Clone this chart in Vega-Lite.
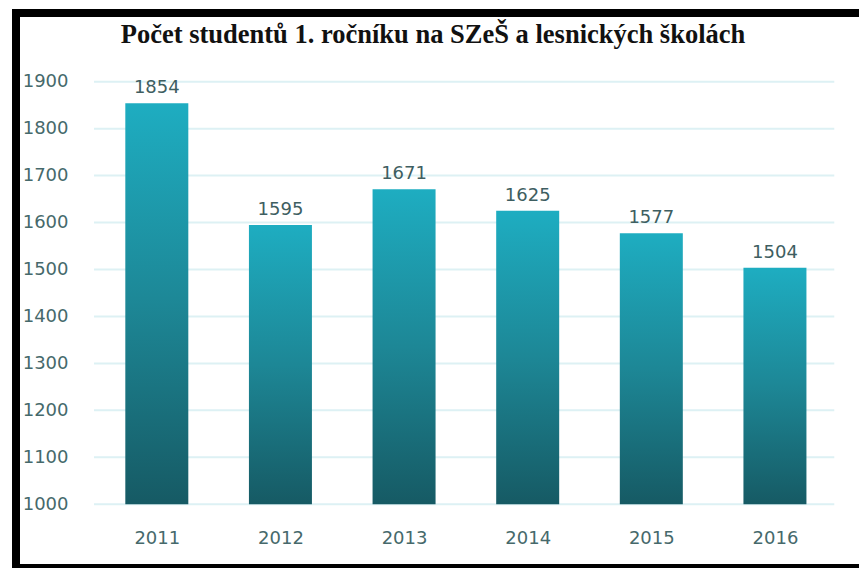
{
  "$schema": "https://vega.github.io/schema/vega-lite/v6.json",
  "autosize": {"type": "none"},
  "padding": {"left": 11, "top": 13, "right": 0, "bottom": 0},
  "width": 848,
  "height": 555,
  "background": "#ffffff",
  "title": {
    "text": "Počet studentů 1. ročníku na SZeŠ a lesnických školách",
    "font": "Liberation Serif",
    "fontSize": 26.5,
    "fontWeight": "bold",
    "color": "#111111",
    "anchor": "middle",
    "frame": "group",
    "baseline": "alphabetic",
    "offset": -60,
    "dx": -2
  },
  "config": {
    "view": {"stroke": null},
    "axis": {
      "labelFont": "DejaVu Sans",
      "labelFontSize": 18,
      "labelColor": "#46696b",
      "domain": false,
      "ticks": false,
      "tickSize": 0,
      "grid": false,
      "title": null
    }
  },
  "datasets": {
    "students": [
      {"year": 2011, "count": 1854},
      {"year": 2012, "count": 1595},
      {"year": 2013, "count": 1671},
      {"year": 2014, "count": 1625},
      {"year": 2015, "count": 1577},
      {"year": 2016, "count": 1504}
    ],
    "grid": [
      {"tick": 1000}, {"tick": 1100}, {"tick": 1200}, {"tick": 1300}, {"tick": 1400},
      {"tick": 1500}, {"tick": 1600}, {"tick": 1700}, {"tick": 1800}, {"tick": 1900}
    ],
    "frame": [{"frame": "border"}]
  },
  "layer": [
    {
      "data": {"name": "grid"},
      "mark": {"type": "rule", "color": "#ddf1f4", "strokeWidth": 2},
      "encoding": {
        "y": {"field": "tick", "type": "quantitative"},
        "x": {"datum": 2010.492, "type": "quantitative"},
        "x2": {"datum": 2016.48}
      }
    },
    {
      "data": {"name": "students"},
      "mark": {
        "type": "bar",
        "width": 63,
        "color": {
          "gradient": "linear",
          "x1": 0, "y1": 0, "x2": 0, "y2": 1,
          "stops": [
            {"offset": 0, "color": "#1eadc1"},
            {"offset": 0.5, "color": "#1d8796"},
            {"offset": 1, "color": "#165a64"}
          ]
        }
      },
      "encoding": {
        "x": {
          "field": "year",
          "type": "quantitative",
          "scale": {"domain": [2009.861, 2016.6395], "nice": false, "zero": false},
          "axis": {
            "values": [2011, 2012, 2013, 2014, 2015, 2016],
            "format": "d",
            "offset": -25,
            "labelPadding": 0,
            "labelBaseline": "alphabetic"
          }
        },
        "y": {
          "field": "count",
          "type": "quantitative",
          "scale": {"domain": [864.3, 2046.3], "nice": false, "zero": false},
          "axis": {
            "values": [1000, 1100, 1200, 1300, 1400, 1500, 1600, 1700, 1800, 1900],
            "format": "d",
            "offset": -57,
            "labelPadding": 0,
            "labelBaseline": "middle"
          }
        },
        "y2": {"datum": 1000}
      }
    },
    {
      "data": {"name": "students"},
      "mark": {
        "type": "text",
        "font": "DejaVu Sans",
        "fontSize": 18,
        "color": "#3e5e61",
        "baseline": "alphabetic",
        "dy": -10
      },
      "encoding": {
        "x": {"field": "year", "type": "quantitative"},
        "y": {"field": "count", "type": "quantitative"},
        "text": {"field": "count", "type": "quantitative", "format": "d"}
      }
    },
    {
      "data": {"name": "frame"},
      "mark": {"type": "rect", "filled": false, "stroke": "#000000", "strokeWidth": 8},
      "encoding": {
        "x": {"datum": 2009.861, "type": "quantitative"},
        "x2": {"datum": 2017.2},
        "y": {"datum": 2046.3, "type": "quantitative"},
        "y2": {"datum": 864.3}
      }
    }
  ]
}
